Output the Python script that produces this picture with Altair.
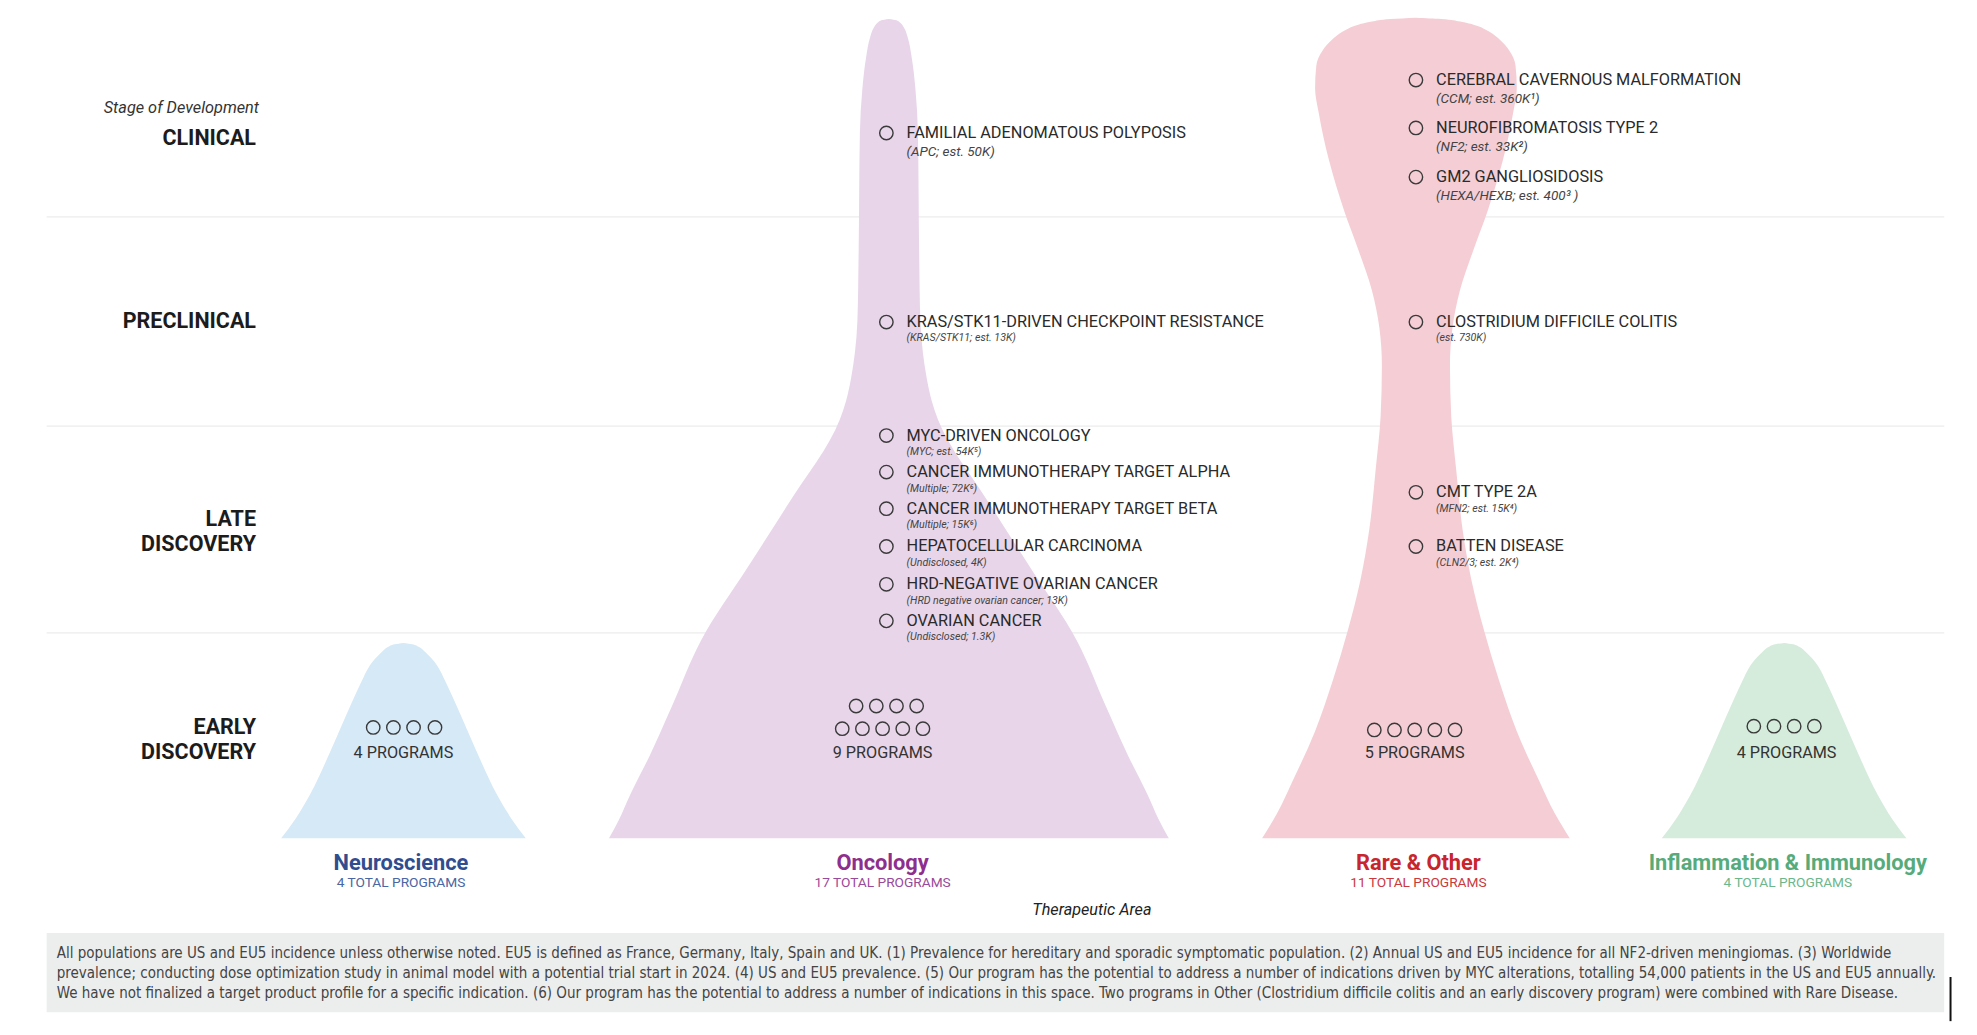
import altair as alt
import pandas as pd

# ---------------- data (positions in reference-image units, 1568 x 821) ----------------
areas = ["Neuroscience", "Oncology", "Rare & Other", "Inflammation & Immunology"]
area_totals = ["4 TOTAL PROGRAMS", "17 TOTAL PROGRAMS", "11 TOTAL PROGRAMS", "4 TOTAL PROGRAMS"]
area_center = [320, 705, 1123, 1415]
area_label_x = [318, 700, 1125, 1418]
area_fill = ["#d6e9f7", "#e8d5e9", "#f5ced5", "#d5ecdc"]
area_label_color = ["#2f4d8f", "#8e2f8e", "#c8252c", "#57ab7b"]
area_sub_color = ["#4a66a3", "#9a4a9a", "#c9393e", "#6cb78b"]

stages = ["CLINICAL", "PRECLINICAL", "LATE\nDISCOVERY", "EARLY\nDISCOVERY"]
stage_y = [110.5, 255.5, 422.5, 587.5]
stage_bounds = [172, 338, 502]

# shape profiles: (y, half-width)
bell_y = [510, 511, 513, 517, 522, 530, 540, 555, 580, 605, 630, 650, 665]
bell_h = [0, 7, 12, 17, 22, 28, 33, 40, 51, 62, 74, 86, 97]
onc_y = [15, 16, 18, 22, 30, 45, 70, 105, 200, 255, 280, 300, 318, 333, 400, 450, 508, 560, 600, 630, 650, 665]
onc_h = [0, 6, 9, 12, 15, 18, 21, 23, 24, 25, 27, 30, 34, 39, 80, 112, 149, 172, 190, 205, 214, 222]
rare_y = [14, 15, 17, 20, 25, 32, 40, 52, 70, 90, 127, 167, 200, 230, 260, 290, 330, 373, 420, 460, 500, 540, 580, 620, 645, 665]
rare_h = [0, 20, 35, 47, 58, 67, 74, 79, 80, 77, 69, 57, 45, 35, 29, 27, 28, 32, 37, 44, 54, 66, 80, 98, 110, 122]
profiles = [(bell_y, bell_h), (onc_y, onc_h), (rare_y, rare_h), (bell_y, bell_h)]

# pipeline items
item_area = ["Oncology"] * 8 + ["Rare & Other"] * 6
item_name = [
    "FAMILIAL ADENOMATOUS POLYPOSIS", "KRAS/STK11-DRIVEN CHECKPOINT RESISTANCE",
    "MYC-DRIVEN ONCOLOGY", "CANCER IMMUNOTHERAPY TARGET ALPHA", "CANCER IMMUNOTHERAPY TARGET BETA",
    "HEPATOCELLULAR CARCINOMA", "HRD-NEGATIVE OVARIAN CANCER", "OVARIAN CANCER",
    "CEREBRAL CAVERNOUS MALFORMATION", "NEUROFIBROMATOSIS TYPE 2", "GM2 GANGLIOSIDOSIS",
    "CLOSTRIDIUM DIFFICILE COLITIS", "CMT TYPE 2A", "BATTEN DISEASE",
]
item_sub = [
    "(APC; est. 50K)", "(KRAS/STK11; est. 13K)",
    "(MYC; est. 54K\u2075)", "(Multiple; 72K\u2076)", "(Multiple; 15K\u2076)",
    "(Undisclosed, 4K)", "(HRD negative ovarian cancer; 13K)", "(Undisclosed; 1.3K)",
    "(CCM; est. 360K\u00b9)", "(NF2; est. 33K\u00b2)", "(HEXA/HEXB; est. 400\u00b3 )",
    "(est. 730K)", "(MFN2; est. 15K\u2074)", "(CLN2/3; est. 2K\u2074)",
]
item_big_sub = [True, False, False, False, False, False, False, False, True, True, True, False, False, False]
item_y = [105.5, 255.5, 345.5, 374.5, 403.5, 433.5, 463.5, 492.5, 63.5, 101.5, 140.5, 255.5, 390.5, 433.5]
item_circle_x = {"Oncology": 703, "Rare & Other": 1123}
item_text_x = {"Oncology": 719, "Rare & Other": 1139}

# early discovery
early_label = ["4 PROGRAMS", "9 PROGRAMS", "5 PROGRAMS", "4 PROGRAMS"]
early_label_x = [320, 700, 1122, 1417]
early_rows = [
    [([296, 312, 328, 345], 577)],
    [([679, 695, 711, 727], 560), ([668, 684, 700, 716, 732], 578)],
    [([1090, 1106, 1122, 1138, 1154], 579)],
    [([1391, 1407, 1423, 1439], 576)],
]

footer_lines = [
    "All populations are US and EU5 incidence unless otherwise noted. EU5 is defined as France, Germany, Italy, Spain and UK. (1) Prevalence for hereditary and sporadic symptomatic population. (2) Annual US and EU5 incidence for all NF2-driven meningiomas. (3) Worldwide",
    "prevalence; conducting dose optimization study in animal model with a potential trial start in 2024. (4) US and EU5 prevalence. (5) Our program has the potential to address a number of indications driven by MYC alterations, totalling 54,000 patients in the US and EU5 annually.",
    "We have not finalized a target product profile for a specific indication. (6) Our program has the potential to address a number of indications in this space. Two programs in Other (Clostridium difficile colitis and an early discovery program) were combined with Rare Disease.",
]

# ---------------- tables ----------------
xs = alt.Scale(domain=[0, 1568], nice=False, zero=False)
ys = alt.Scale(domain=[0, 821], nice=False, zero=False, reverse=True)


def X(f):
    return alt.X(f, type="quantitative", scale=xs, axis=None)


def Y(f):
    return alt.Y(f, type="quantitative", scale=ys, axis=None)


shape_rows = []
for a, c, fill, (py, ph) in zip(areas, area_center, area_fill, profiles):
    for yy, hh in zip(py, ph):
        shape_rows.append({"area": a, "y": yy, "xl": c - hh, "xr": c + hh, "fill": fill})
shape_df = pd.DataFrame(shape_rows)

grid_df = pd.DataFrame({"y": stage_bounds, "x1": [37] * 3, "x2": [1542] * 3})

stage_rows = []
for s, sy in zip(stages, stage_y):
    lines = s.split("\n")
    if len(lines) == 1:
        stage_rows.append({"t": lines[0], "y": sy})
    else:
        stage_rows.append({"t": lines[0], "y": sy - 10})
        stage_rows.append({"t": lines[1], "y": sy + 10})
stage_df = pd.DataFrame(stage_rows)

items_df = pd.DataFrame({
    "area": item_area, "name": item_name, "sub": item_sub, "y": item_y, "big": item_big_sub,
})
items_df["cx"] = items_df["area"].map(item_circle_x)
items_df["tx"] = items_df["area"].map(item_text_x)
items_df["sy"] = items_df["y"] + [15 if b else 13 for b in item_big_sub]

circ_rows = []
for rows in early_rows:
    for xs_list, ry in rows:
        for cx in xs_list:
            circ_rows.append({"x": cx, "y": ry})
circ_df = pd.concat([
    pd.DataFrame(circ_rows),
    items_df[["cx", "y"]].rename(columns={"cx": "x"}),
])

early_df = pd.DataFrame({"t": early_label, "x": early_label_x, "y": [597] * 4})

cat_df = pd.DataFrame({"name": areas, "sub": area_totals, "x": area_label_x,
                       "c1": area_label_color, "c2": area_sub_color})

footer_df = pd.DataFrame({"t": footer_lines, "x": [45] * 3, "y": [756, 772, 788]})

# ---------------- layers ----------------
footer_box = alt.Chart(pd.DataFrame({"x1": [37], "x2": [1542], "y1": [740], "y2": [803]})).mark_rect(
    color="#eceeee").encode(x=X("x1"), x2="x2", y=Y("y1"), y2="y2")

grid = alt.Chart(grid_df).mark_rule(color="#ececec", strokeWidth=1.2).encode(
    x=X("x1"), x2="x2", y=Y("y"))

shapes = alt.Chart(shape_df).mark_area(orient="horizontal", interpolate="monotone").encode(
    y=Y("y"), x=X("xl"), x2="xr",
    color=alt.Color("fill:N", scale=None), detail="area:N")

stage_text = alt.Chart(stage_df).mark_text(
    align="right", baseline="middle", font="Roboto", fontSize=21.5, fontWeight="bold", color="#1c1c1c"
).encode(x=alt.value(256), y=Y("y"), text="t:N")

stage_title = alt.Chart(pd.DataFrame({"t": ["Stage of Development"], "y": [85.5]})).mark_text(
    align="right", baseline="middle", font="Roboto", fontSize=16.3, fontStyle="italic", color="#333"
).encode(x=alt.value(259), y=Y("y"), text="t:N")

circles = alt.Chart(circ_df).mark_point(
    shape="circle", filled=False, size=180, strokeWidth=1.4, color="#3a3a3a", opacity=1
).encode(x=X("x"), y=Y("y"))

item_names = alt.Chart(items_df).mark_text(
    align="left", baseline="middle", font="Roboto", fontSize=16.3, color="#2a2a2a"
).encode(x=X("tx"), y=Y("y"), text="name:N")

item_subs_big = alt.Chart(items_df[items_df["big"]]).mark_text(
    align="left", baseline="middle", font="Roboto", fontSize=13.5, fontStyle="italic", color="#444"
).encode(x=X("tx"), y=Y("sy"), text="sub:N")

item_subs_small = alt.Chart(items_df[~items_df["big"]]).mark_text(
    align="left", baseline="middle", font="Roboto", fontSize=10.6, fontStyle="italic", color="#444"
).encode(x=X("tx"), y=Y("sy"), text="sub:N")

early_text = alt.Chart(early_df).mark_text(
    align="center", baseline="middle", font="Roboto", fontSize=16.2, color="#333"
).encode(x=X("x"), y=Y("y"), text="t:N")

cat_names = alt.Chart(cat_df).mark_text(
    align="center", baseline="middle", font="Roboto", fontSize=21.8, fontWeight="bold"
).encode(x=X("x"), y=alt.value(863), text="name:N", color=alt.Color("c1:N", scale=None))

cat_subs = alt.Chart(cat_df).mark_text(
    align="center", baseline="middle", font="Roboto", fontSize=13.7
).encode(x=X("x"), y=alt.value(883), text="sub:N", color=alt.Color("c2:N", scale=None))

axis_title = alt.Chart(pd.DataFrame({"t": ["Therapeutic Area"], "x": [866], "y": [722]})).mark_text(
    align="center", baseline="middle", font="Roboto", fontSize=16.2, fontStyle="italic", color="#222"
).encode(x=X("x"), y=Y("y"), text="t:N")

footer_text = alt.Chart(footer_df).mark_text(
    align="left", baseline="middle", font="Liberation Sans Narrow, DejaVu Sans Condensed", fontSize=15,
    color="#444"
).encode(x=X("x"), y=Y("y"), text="t:N")

edge_mark = alt.Chart(pd.DataFrame({"x": [1547], "y1": [775], "y2": [810]})).mark_rule(
    color="#111", strokeWidth=2).encode(x=X("x"), y=Y("y1"), y2="y2")

chart = alt.layer(
    footer_box, grid, shapes, stage_title, stage_text, circles, item_names,
    item_subs_big, item_subs_small, early_text, cat_names, cat_subs, axis_title, footer_text, edge_mark
).properties(
    width=1977, height=1035, padding=0, autosize="none", background="white"
).configure_view(stroke=None)

chart.save("out.html", embed_options={"renderer": "svg", "actions": False})
